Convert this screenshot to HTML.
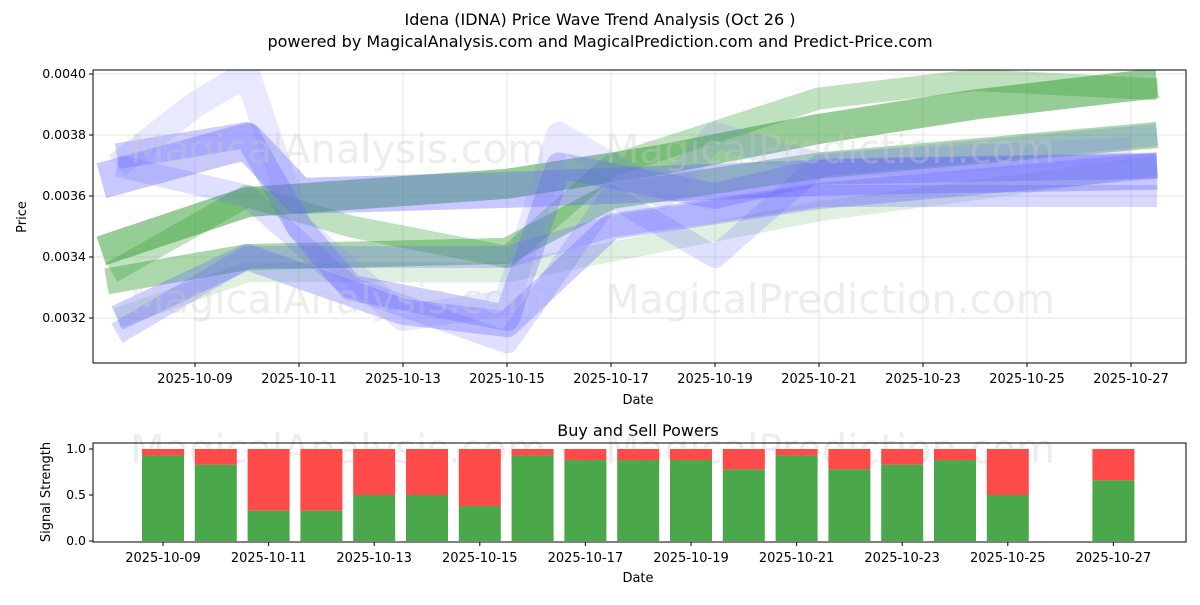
<!DOCTYPE html>
<html><head><meta charset="utf-8"><style>
body{margin:0;background:#fff;font-family:"Liberation Sans","DejaVu Sans",sans-serif}
svg text{font-family:"DejaVu Sans","Liberation Sans",sans-serif}
</style></head><body>
<svg id="chart" width="1200" height="600" viewBox="0 0 1200 600" xmlns="http://www.w3.org/2000/svg">
<rect width="1200" height="600" fill="#fff"/>
<text x="600" y="25" text-anchor="middle" font-size="16">Idena (IDNA) Price Wave Trend Analysis (Oct 26 )</text>
<text x="600" y="47" text-anchor="middle" font-size="16">powered by MagicalAnalysis.com and MagicalPrediction.com and Predict-Price.com</text>
<defs><clipPath id="mainclip"><rect x="93" y="70" width="1093" height="293"/></clipPath></defs>
<g id="grid"></g>
<g id="bands" clip-path="url(#mainclip)"></g>
<text x="130" y="163" font-size="40" fill="#ccc" opacity="0.35">MagicalAnalysis.com</text>
<text x="605" y="163" font-size="40" fill="#ccc" opacity="0.35">MagicalPrediction.com</text>
<text x="130" y="313" font-size="40" fill="#ccc" opacity="0.35">MagicalAnalysis.com</text>
<text x="605" y="313" font-size="40" fill="#ccc" opacity="0.35">MagicalPrediction.com</text>
<rect x="93" y="70" width="1093" height="293" fill="none" stroke="#000" stroke-width="1"/>
<g id="mainaxes"></g>
<text x="638" y="404" text-anchor="middle" font-size="13">Date</text>
<text x="26" y="217" text-anchor="middle" font-size="13" transform="rotate(-90 26 217)">Price</text>
<text x="638" y="436" text-anchor="middle" font-size="16">Buy and Sell Powers</text>
<text x="130" y="463" font-size="40" fill="#ccc" opacity="0.35">MagicalAnalysis.com</text>
<text x="605" y="463" font-size="40" fill="#ccc" opacity="0.35">MagicalPrediction.com</text>
<g id="bars"></g>
<rect x="93" y="443" width="1093" height="99" fill="none" stroke="#000"/>
<g id="botaxes"></g>
<text x="638" y="582" text-anchor="middle" font-size="13">Date</text>
<text x="50" y="492" text-anchor="middle" font-size="13" transform="rotate(-90 50 492)">Signal Strength</text>
</svg>
<script>
const xTickDays=[9,11,13,15,17,19,21,23,25,27];
const yTicks=[0.0032,0.0034,0.0036,0.0038,0.0040];
const powerYTicks=[0,0.5,1.0];
const barDays=[9,10,11,12,13,14,15,16,17,18,19,20,21,22,23,24,25,27];
const buyPower=[0.93,0.83,0.33,0.33,0.5,0.5,0.38,0.93,0.88,0.88,0.88,0.78,0.93,0.78,0.83,0.88,0.5,0.66];
const greenDays1=[7.2,10,15,18,21,24,27.5];
const greenVals1=[0.00342,0.00358,0.00364,0.00372,0.00382,0.0039,0.00397];
const greenDays2=[7.3,10,15,17,21,27.5];
const greenVals2=[0.00332,0.0034,0.00342,0.0036,0.0037,0.0038];
const greenDays3=[7.4,10,12,15,17,21,24,27.5];
const greenVals3=[0.00335,0.0036,0.0035,0.0034,0.0037,0.00392,0.00398,0.00395];
const greenDays4=[7.5,10,15,18,21,27.5];
const greenVals4=[0.0032,0.00335,0.00335,0.00345,0.00355,0.0037];
const blueDays1=[7.2,10,11,15,21,27.5];
const blueVals1=[0.00365,0.00378,0.0036,0.00362,0.00366,0.00368];
const blueDays2=[7.5,10,11,12,15,16,19,21,27.5];
const blueVals2=[0.00373,0.0038,0.0035,0.0033,0.0032,0.0037,0.0036,0.00368,0.0037];
const blueDays3=[7.5,10,13,15,17,21,27.5];
const blueVals3=[0.0032,0.0034,0.00322,0.00318,0.0035,0.0036,0.0037];
const blueDays4=[7.5,9,10,15,17,21,27.5];
const blueVals4=[0.00315,0.0033,0.0034,0.0034,0.0035,0.0036,0.0036];
const blueDays5=[7.5,9,10,11,13,15,16,18,19,21,27];
const blueVals5=[0.0037,0.0039,0.004,0.0035,0.0032,0.00325,0.0038,0.0036,0.0038,0.0037,0.00375];
const blueDays6=[7.5,10,12,15,17,19,21,27.5];
const blueVals6=[0.0037,0.0036,0.0033,0.00312,0.0036,0.0034,0.0037,0.0038];

const NS="http://www.w3.org/2000/svg";
const xS=d=>195+(d-9)*52;
const xB=d=>163+(d-9)*52.8;
const yS=v=>135+(0.0038-v)/0.0002*61;
const yP=v=>541-v*92;
function mk(tag,attrs,parent){const e=document.createElementNS(NS,tag);for(const k in attrs)e.setAttribute(k,attrs[k]);document.getElementById(parent).appendChild(e);return e;}

xTickDays.forEach(d=>{
  const l=mk('line',{x1:xS(d),x2:xS(d),y1:70,y2:363,stroke:'#ddd','stroke-width':0.8},'grid');
  
  
  const lab='2025-10-'+String(d).padStart(2,'0');
  [[xS(d),363,383],[xB(d),542,562]].forEach(([x,y0,ty])=>{
    const t=mk('line',{x1:x,x2:x,y1:y0,y2:y0+4,stroke:'#000'},'mainaxes');
    
    
    const tx=mk('text',{x:x,y:ty,'text-anchor':'middle','font-size':13},'mainaxes');
    tx.textContent=lab;
    
    
  });
});
yTicks.forEach(v=>{
  const l=mk('line',{x1:93,x2:1186,y1:yS(v),y2:yS(v),stroke:'#ddd','stroke-width':0.8},'grid');
  
  
  const t=mk('line',{x1:89,x2:93,y1:yS(v),y2:yS(v),stroke:'#000'},'mainaxes');
  
  
  const tx=mk('text',{x:86,y:yS(v)+4,'text-anchor':'end','font-size':12.5},'mainaxes');
  tx.textContent=v.toFixed(4);
  
  
});
powerYTicks.forEach(v=>{
  const t=mk('line',{x1:89,x2:93,y1:yP(v),y2:yP(v),stroke:'#000'},'botaxes');
  
  
  const tx=mk('text',{x:86,y:yP(v)+4,'text-anchor':'end','font-size':12.5},'botaxes');
  tx.textContent=v.toFixed(1);
  
  
});
const bands=[
 [greenDays1,greenVals1,'#2e9a2e',30,0.5],
 [greenDays2,greenVals2,'#2e9a2e',26,0.4],
 [greenDays3,greenVals3,'#2e9a2e',22,0.3],
 [greenDays4,greenVals4,'#2e9a2e',20,0.15],
 [blueDays1,blueVals1,'#6060ff',36,0.35],
 [blueDays2,blueVals2,'#6060ff',26,0.3],
 [blueDays3,blueVals3,'#6060ff',26,0.3],
 [blueDays4,blueVals4,'#6060ff',22,0.25],
 [blueDays5,blueVals5,'#8080ff',26,0.18],
 [blueDays6,blueVals6,'#6060ff',22,0.2]
];
bands.forEach(([ds,vs,c,w,o])=>{
  const p=mk('polyline',{points:ds.map((d,i)=>xS(d)+','+yS(vs[i])).join(' '),fill:'none',stroke:c,'stroke-width':w,'stroke-opacity':o,'stroke-linejoin':'round'},'bands');
  
  
});
barDays.forEach((d,i)=>{
  const x=xB(d)-21,b=buyPower[i];
  const g=mk('rect',{x:x,y:yP(b),width:42,height:yP(0)-yP(b),fill:'#4aa84a'},'bars');
  
  
  const r=mk('rect',{x:x,y:yP(1),width:42,height:yP(b)-yP(1),fill:'#ff4a4a'},'bars');
  
  
});
</script>
</body></html>
